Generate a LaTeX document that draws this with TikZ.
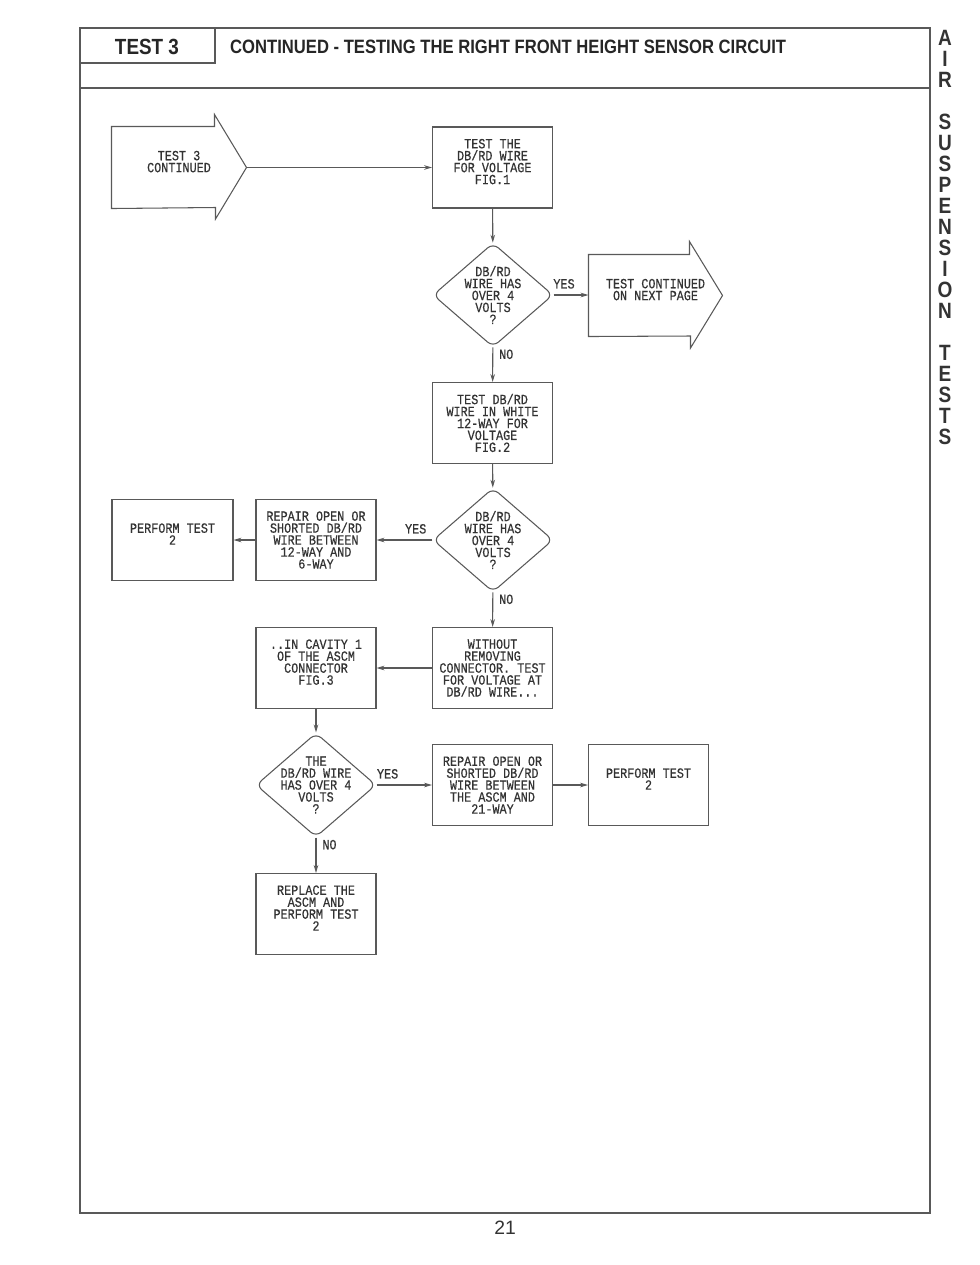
\documentclass[tikz,border=0pt]{standalone}
\usepackage{fontspec}
\setmainfont{Liberation Sans}
\newfontfamily\kopf[FakeStretch=0.86]{Liberation Sans}
\newfontfamily\flussfont[FakeStretch=0.84,FakeBold=0.4]{Liberation Mono}
\usetikzlibrary{shapes.geometric,arrows.meta,positioning}
\newcommand{\flujo}{\flussfont\fontsize{8}{6.8}\selectfont}
\newcommand{\ct}[1]{\parbox[c][1.62cm][c]{2.35cm}{\centering #1}}
\tikzset{
  linea/.style={draw=black!65, line width=0.6pt},
  caja/.style={linea, rectangle, inner sep=0pt, minimum width=2.4cm, minimum height=1.62cm, font=\flujo, text=black!80},
  rombo/.style={linea, diamond, rounded corners=4pt, inner sep=0pt, minimum width=2.4cm, minimum height=2.08cm},
  rtexto/.style={font=\flujo, align=center, text=black!80},
  flecha/.style={linea, -{Stealth[length=4.5pt,width=2.6pt]}},
  sino/.style={font=\flujo, text=black!80},
  lado/.style={font=\kopf\bfseries\fontsize{12.6}{14}\selectfont, text=black!80}
}
\begin{document}
\begin{tikzpicture}[x=0.02cm,y=-0.02cm]
  \useasboundingbox[fill=white] (0,0) rectangle (980,1265);
  % marco y cabecera
  \draw[linea] (80,28) rectangle (930,1213);
  \draw[linea] (80,88) -- (930,88);
  \draw[linea] (80,63) -- (215,63) -- (215,28);
  \node[font=\kopf\bfseries\fontsize{12.5}{14}\selectfont, text=black!85] (titulo) at (147,47) {TEST 3};
  \node[anchor=west, font=\kopf\bfseries\fontsize{11}{13}\selectfont, text=black!85] (subtitulo) at (224,47) {CONTINUED - TESTING THE RIGHT FRONT HEIGHT SENSOR CIRCUIT};
  \foreach \l/\k in {A/0,I/1,R/2,S/4,U/5,S/6,P/7,E/8,N/9,S/10,I/11,O/12,N/13,T/15,E/16,S/17,T/18,S/19}
    \node[lado] at (945,{38+21*\k}) {\l};
  \node[font=\fontsize{11}{13}\selectfont, text=black!80] (pagina) at (505,1228) {21};
  % flechas grandes
  \node[caja, draw=none, minimum width=2.68cm] (inicio) at (179,167.5) {\ct{TEST 3\\CONTINUED\\\mbox{}}};
  \draw[linea] (inicio.north west) -- ++(103,0) -- ++(0,-12) -- (inicio.east) -- ++(-31,51.5) -- ++(0,-11.5) -- (inicio.south west) -- cycle;
  \node[caja, draw=none, minimum width=2.66cm] (sigue) at (655.5,295.5) {\ct{TEST CONTINUED\\ON NEXT PAGE\\\mbox{}}};
  \draw[linea] (sigue.north west) -- ++(101,0) -- ++(0,-13) -- (sigue.east) -- ++(-32,52.5) -- ++(0,-12) -- (sigue.south west) -- cycle;
  % cajas
  \node[caja] (prueba1) at (492.5,167.5) {\ct{TEST THE\\DB/RD WIRE\\FOR VOLTAGE\\FIG.1\\\mbox{}}};
  \node[rombo, label={[rtexto]center:DB/RD\\WIRE HAS\\OVER 4\\VOLTS\\?}] (rombo1) at (493,295) {};
  \node[caja] (prueba2) at (492.5,423) {\ct{TEST DB/RD\\WIRE IN WHITE\\12-WAY FOR\\VOLTAGE\\FIG.2}};
  \node[rombo, label={[rtexto]center:DB/RD\\WIRE HAS\\OVER 4\\VOLTS\\?}] (rombo2) at (493,540) {};
  \node[caja] (repara1) at (316,540) {\ct{REPAIR OPEN OR\\SHORTED DB/RD\\WIRE BETWEEN\\12-WAY AND\\6-WAY}};
  \node[caja, minimum width=2.42cm] (test1) at (172.5,540) {\ct{PERFORM TEST\\2\\\mbox{}}};
  \node[caja] (sin) at (492.5,668) {\ct{WITHOUT\\REMOVING\\CONNECTOR. TEST\\FOR VOLTAGE AT\\DB/RD WIRE...}};
  \node[caja] (cavidad) at (316,668) {\ct{..IN CAVITY 1\\OF THE ASCM\\CONNECTOR\\FIG.3\\\mbox{}}};
  \node[rombo, label={[rtexto]center:THE\\DB/RD WIRE\\HAS OVER 4\\VOLTS\\?}] (rombo3) at (316,785) {};
  \node[caja] (repara2) at (492.5,785) {\ct{REPAIR OPEN OR\\SHORTED DB/RD\\WIRE BETWEEN\\THE ASCM AND\\21-WAY}};
  \node[caja] (test2) at (648.5,785) {\ct{PERFORM TEST\\2\\\mbox{}}};
  \node[caja] (cambia) at (316,914) {\ct{REPLACE THE\\ASCM AND\\PERFORM TEST\\2\\\mbox{}}};
  % conexiones
  \draw[flecha] (inicio.east) -- (prueba1.west);
  \draw[flecha] (prueba1) -- (rombo1);
  \draw[flecha] (rombo1.east) -- node[sino, above, pos=0.3] {YES} (sigue.west |- rombo1.east);
  \draw[flecha] (rombo1) -- node[sino, right, pos=0.2] {NO} (prueba2);
  \draw[flecha] (prueba2) -- (rombo2);
  \draw[flecha] (rombo2.west) -- node[sino, above, pos=0.3] {YES} (repara1.east);
  \draw[flecha] (repara1) -- (test1);
  \draw[flecha] (rombo2) -- node[sino, right, pos=0.2] {NO} (sin);
  \draw[flecha] (sin) -- (cavidad);
  \draw[flecha] (cavidad) -- (rombo3);
  \draw[flecha] (rombo3.east) -- node[sino, above, pos=0.2] {YES} (repara2.west);
  \draw[flecha] (repara2) -- (test2);
  \draw[flecha] (rombo3) -- node[sino, right, pos=0.2] {NO} (cambia);
\end{tikzpicture}
\end{document}
